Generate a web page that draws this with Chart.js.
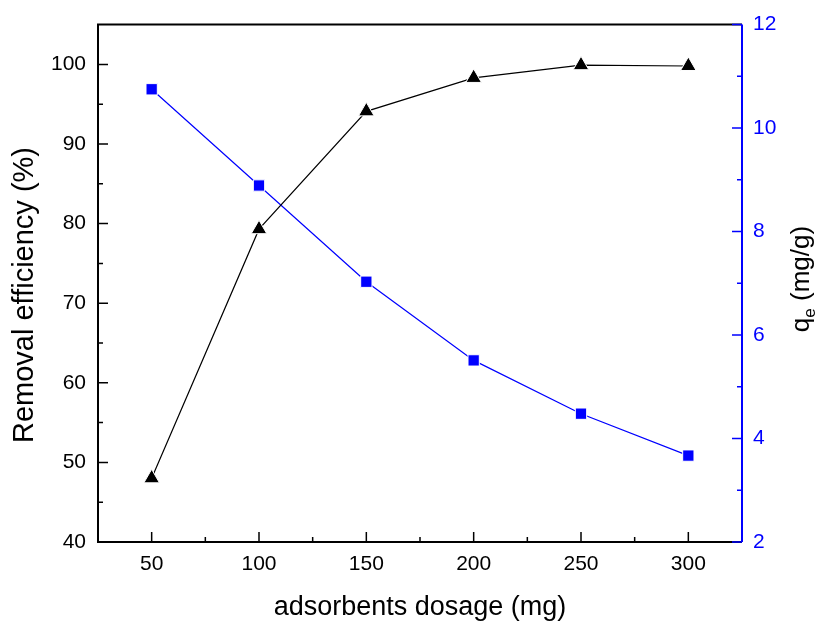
<!DOCTYPE html>
<html>
<head>
<meta charset="utf-8">
<script src="https://cdn.jsdelivr.net/npm/chart.js@4.4.1/dist/chart.umd.min.js"></script>
<style>
  body { margin: 0; background: #fff; }
  #wrap { width: 818px; height: 624px; }
</style>
</head>
<body>
<div id="wrap"><canvas id="chart" width="818" height="624"></canvas></div>
<script>
const dosage = [50, 100, 150, 200, 250, 300];
const removal = [48.0, 79.3, 94.1, 98.3, 99.9, 99.8];
const qe = [10.75, 8.89, 7.03, 5.51, 4.48, 3.67];

const xTicks = [50, 100, 150, 200, 250, 300];
const leftTicks = [40, 50, 60, 70, 80, 90, 100];
const rightTicks = [2, 4, 6, 8, 10, 12];

const FONT = '"Liberation Sans", Arial, sans-serif';
const BLUE = '#0000ff';

function mids(arr) {
  const out = [];
  for (let i = 0; i < arr.length - 1; i++) out.push((arr[i] + arr[i + 1]) / 2);
  return out;
}

// frame, inward ticks and titles, Origin style
const framePlugin = {
  id: 'frame',
  afterDraw(chart) {
    const { ctx, chartArea: a, scales } = chart;
    const x = scales.x, yl = scales.y, yr = scales.y2;
    ctx.save();
    ctx.lineWidth = 2;
    ctx.strokeStyle = '#000';
    ctx.beginPath();
    ctx.moveTo(a.right, a.top);
    ctx.lineTo(a.left, a.top);
    ctx.lineTo(a.left, a.bottom);
    ctx.lineTo(a.right, a.bottom);
    ctx.stroke();

    ctx.lineWidth = 1.5;
    ctx.beginPath();
    xTicks.forEach(v => { const p = x.getPixelForValue(v); ctx.moveTo(p, a.bottom); ctx.lineTo(p, a.bottom - 10); });
    mids(xTicks).forEach(v => { const p = x.getPixelForValue(v); ctx.moveTo(p, a.bottom); ctx.lineTo(p, a.bottom - 5); });
    leftTicks.forEach(v => { const p = yl.getPixelForValue(v); ctx.moveTo(a.left, p); ctx.lineTo(a.left + 10, p); });
    mids(leftTicks).forEach(v => { const p = yl.getPixelForValue(v); ctx.moveTo(a.left, p); ctx.lineTo(a.left + 5, p); });
    ctx.stroke();

    ctx.strokeStyle = BLUE;
    ctx.lineWidth = 2;
    ctx.beginPath();
    ctx.moveTo(a.right, a.top);
    ctx.lineTo(a.right, a.bottom);
    ctx.stroke();
    ctx.lineWidth = 1.5;
    ctx.beginPath();
    rightTicks.forEach(v => { const p = yr.getPixelForValue(v); ctx.moveTo(a.right, p); ctx.lineTo(a.right - 10, p); });
    mids(rightTicks).forEach(v => { const p = yr.getPixelForValue(v); ctx.moveTo(a.right, p); ctx.lineTo(a.right - 5, p); });
    ctx.stroke();

    // titles
    ctx.fillStyle = '#000';
    ctx.textBaseline = 'alphabetic';
    ctx.textAlign = 'center';
    ctx.font = '27px ' + FONT;
    ctx.fillText('adsorbents dosage (mg)', 420, 615);

    ctx.save();
    ctx.translate(33, 295);
    ctx.rotate(-Math.PI / 2);
    ctx.font = '29px ' + FONT;
    ctx.fillText('Removal efficiency (%)', 0, 0);
    ctx.restore();

    ctx.save();
    ctx.translate(809, 279);
    ctx.rotate(-Math.PI / 2);
    ctx.textAlign = 'left';
    const big = '26px ' + FONT, small = '17px ' + FONT;
    ctx.font = big;
    const wq = ctx.measureText('q').width;
    const wr = ctx.measureText(' (mg/g)').width;
    ctx.font = small;
    const we = ctx.measureText('e').width;
    let cx = -(wq + we + wr) / 2;
    ctx.font = big;
    ctx.fillText('q', cx, 0);
    cx += wq;
    ctx.font = small;
    ctx.fillText('e', cx, 6);
    cx += we;
    ctx.font = big;
    ctx.fillText(' (mg/g)', cx, 0);
    ctx.restore();

    ctx.restore();
  }
};

new Chart(document.getElementById('chart'), {
  type: 'line',
  data: {
    datasets: [
      {
        label: 'Removal efficiency',
        data: dosage.map((d, i) => ({ x: d, y: removal[i] })),
        yAxisID: 'y',
        borderColor: '#000',
        backgroundColor: '#000',
        borderWidth: 1.2,
        pointStyle: 'triangle',
        pointRadius: 9,
        pointBorderColor: '#fff',
        pointBorderWidth: 1,
        tension: 0
      },
      {
        label: 'qe',
        data: dosage.map((d, i) => ({ x: d, y: qe[i] })),
        yAxisID: 'y2',
        borderColor: BLUE,
        backgroundColor: BLUE,
        borderWidth: 1.2,
        pointStyle: 'rect',
        pointRadius: 8,
        pointBorderColor: '#fff',
        pointBorderWidth: 1,
        tension: 0
      }
    ]
  },
  options: {
    responsive: false,
    animation: false,
    layout: { padding: { top: 23, left: 0, right: 0, bottom: 0 } },
    plugins: { legend: { display: false }, tooltip: { enabled: false } },
    scales: {
      x: {
        type: 'linear',
        min: 25,
        max: 325,
        grid: { display: false, drawTicks: false },
        border: { display: false },
        afterBuildTicks: s => { s.ticks = xTicks.map(v => ({ value: v })); },
        afterFit: s => { s.height = 82; },
        ticks: { padding: 10, color: '#000', font: { family: FONT, size: 21 } }
      },
      y: {
        position: 'left',
        min: 40,
        max: 105,
        grid: { display: false, drawTicks: false },
        border: { display: false },
        afterBuildTicks: s => { s.ticks = leftTicks.map(v => ({ value: v })); },
        afterFit: s => { s.width = 98; },
        ticks: { padding: 12, color: '#000', font: { family: FONT, size: 21 } }
      },
      y2: {
        position: 'right',
        min: 2,
        max: 12,
        grid: { display: false, drawTicks: false },
        border: { display: false },
        afterBuildTicks: s => { s.ticks = rightTicks.map(v => ({ value: v })); },
        afterFit: s => { s.width = 76; },
        ticks: { padding: 11, color: BLUE, font: { family: FONT, size: 21 } }
      }
    }
  },
  plugins: [framePlugin]
});
</script>
</body>
</html>
